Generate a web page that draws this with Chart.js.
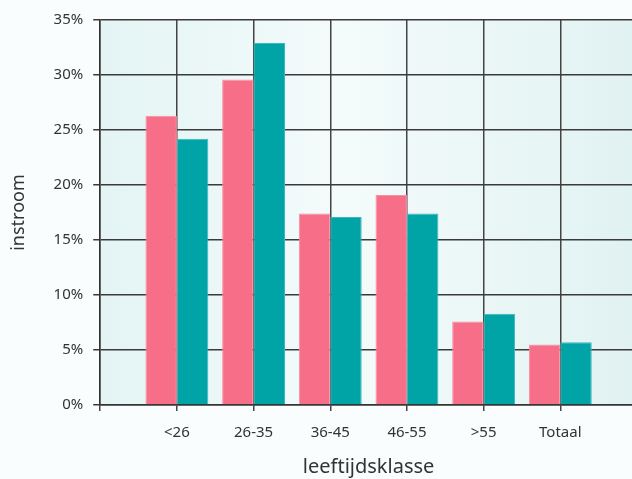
<!DOCTYPE html>
<html>
<head>
<meta charset="utf-8">
<script src="https://cdn.jsdelivr.net/npm/chart.js@4/dist/chart.umd.min.js"></script>
<style>
  html, body { margin: 0; padding: 0; background: #fafdfd; overflow: hidden; }
  #wrap { width: 632px; height: 479px; overflow: hidden; }
</style>
</head>
<body>
<div id="wrap"><canvas id="chart" width="650" height="479"></canvas></div>
<script>
// empty slots at both ends so the groups sit on the grid lines like the original
const categories = ['', '<26', '26-35', '36-45', '46-55', '>55', 'Totaal', ''];
const seriesA = [null, 26.3, 29.6, 17.4, 19.1, 7.6, 5.5, null];
const seriesB = [null, 24.2, 32.9, 17.1, 17.4, 8.3, 5.7, null];
const yTicks = [0, 5, 10, 15, 20, 25, 30, 35];

const areaBg = {
    id: 'areaBg',
    beforeDraw(chart) {
        const { ctx, chartArea: a } = chart;
        const g = ctx.createLinearGradient(a.left, 0, a.right, 0);
        g.addColorStop(0, '#e4f4f4');
        g.addColorStop(0.45, '#f4fbfb');
        g.addColorStop(1, '#e1f2f2');
        ctx.save();
        ctx.fillStyle = g;
        ctx.fillRect(a.left, a.top, a.right - a.left, a.bottom - a.top);
        ctx.restore();
    }
};

const font = "'Noto Sans', sans-serif";

new Chart(document.getElementById('chart'), {
    type: 'bar',
    data: {
        labels: categories,
        datasets: [
            { label: 'A', data: seriesA, backgroundColor: '#f76e88', borderColor: '#f98fa2', borderWidth: 1 },
            { label: 'B', data: seriesB, backgroundColor: '#00a3a6', borderColor: '#3db8ba', borderWidth: 1 }
        ]
    },
    options: {
        responsive: false,
        animation: false,
        layout: { padding: { top: 20, right: 0, left: 4, bottom: 0 } },
        datasets: { bar: { categoryPercentage: 0.82, barPercentage: 1 } },
        plugins: { legend: { display: false }, tooltip: { enabled: false } },
        scales: {
            x: {
                offset: false,
                grid: { offset: false, color: '#444', lineWidth: 1.5, tickLength: 6 },
                border: { color: '#333', width: 1.5 },
                ticks: { color: '#333', font: { family: font, size: 15 }, padding: 13, maxRotation: 0, autoSkip: false },
                title: { display: true, text: 'leeftijdsklasse', color: '#333', font: { family: font, size: 20 }, padding: { top: 0, bottom: 0 } }
            },
            y: {
                min: 0, max: 35,
                afterBuildTicks: axis => { axis.ticks = yTicks.map(v => ({ value: v })); },
                grid: { color: '#3a3a3a', lineWidth: 1.5, tickLength: 7 },
                border: { color: '#333', width: 1.5 },
                ticks: { color: '#333', font: { family: font, size: 15 }, padding: 10, callback: v => v + '%' },
                title: { display: true, text: 'instroom', color: '#333', font: { family: font, size: 18 }, padding: { bottom: 14 } }
            }
        }
    },
    plugins: [areaBg]
});
</script>
</body>
</html>
